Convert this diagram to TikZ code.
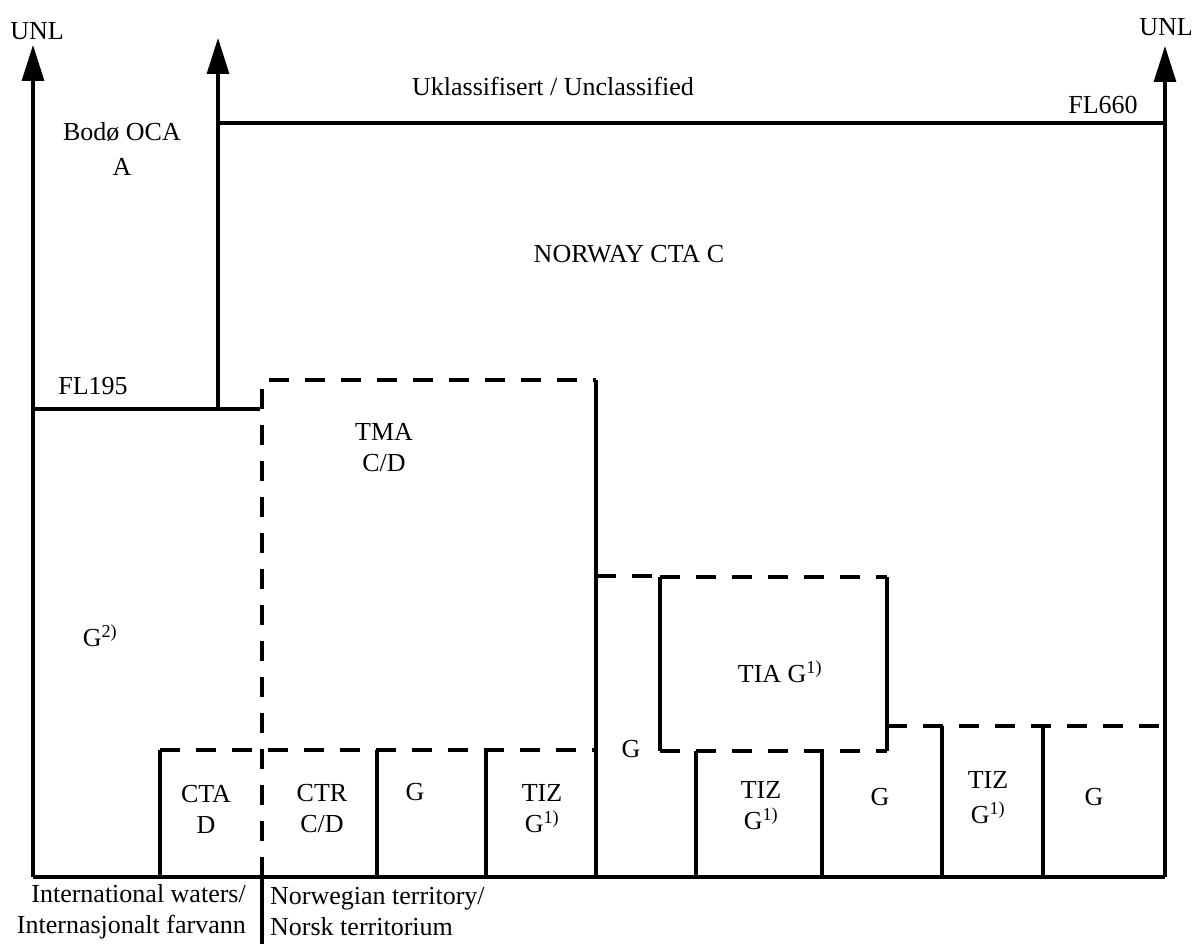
\documentclass[tikz,border=0pt]{standalone}
\usepackage{fontspec}
\setmainfont{Liberation Serif}
\usetikzlibrary{arrows.meta}
\tikzset{
  ln/.style={line width=3.2pt},
  dsh/.style={line width=3.2pt, dash pattern=on 20pt off 16pt},
  up/.style={line width=3.2pt, -{Triangle[length=36pt,width=22pt]}},
  lbl/.style={font=\fontsize{26}{31}\selectfont, inner sep=0pt, align=center},
}
\begin{document}
\begin{tikzpicture}[x=1pt,y=-1pt]
\useasboundingbox (0,0) rectangle (1192,944);
% coordinates
\coordinate (L0) at (33,877);
\coordinate (Ltop) at (33,45);
\coordinate (A2b) at (218,409);
\coordinate (A2t) at (218,38);
\coordinate (R0) at (1165,877);
\coordinate (Rtop) at (1165,46);
% arrows
\draw[up] (L0) -- (Ltop);
\draw[up] (A2b) -- (A2t);
\draw[up] (R0) -- (Rtop);
% FL660 line
\draw[ln] (218,123) -- (1165,123);
% FL195 line
\draw[ln] (33,409) -- (260,409);
% bottom line
\draw[ln] (33,877) -- (1165,877);
% border line under
\draw[ln] (262,877) -- (262,944);
% TMA box
\draw[dsh] (262,877) -- (262,380) -- (596,380);
\draw[ln] (596,380) -- (596,877);
\draw[dsh] (160,750) -- (596,750);
\draw[ln] (160,750) -- (160,877);
\draw[ln] (377,750) -- (377,877);
\draw[ln] (486,750) -- (486,877);
% dashed from TMA to TIA
\draw[dsh] (596,576) -- (660,576);
% TIA box
\draw[dsh] (660,577) -- (887,577);
\draw[dsh] (660,751) -- (887,751);
\draw[ln] (660,577) -- (660,751);
\draw[ln] (887,577) -- (887,751);
% right lower zone
\draw[dsh] (887,726) -- (1165,726);
\draw[ln] (696,751) -- (696,877);
\draw[ln] (822,751) -- (822,877);
\draw[ln] (942,726) -- (942,877);
\draw[ln] (1043,726) -- (1043,877);
% labels
\node[lbl] (unl1) at (37,31) {UNL};
\node[lbl] (unl2) at (1166,27) {UNL};
\node[lbl] (uncl) at (553,86) {Uklassifisert / Unclassified};
\node[lbl] (fl660) at (1103,105) {FL660};
\node[lbl] (bodo) at (122,132) {Bodø OCA};
\node[lbl] (bodoA) at (122,167) {A};
\node[lbl] (cta) at (629,254) {NORWAY CTA C};
\node[lbl] (fl195) at (93,386) {FL195};
\node[lbl] (tma) at (384,448) {TMA\\C/D};
\node[lbl] (g2) at (100,636) {G\textsuperscript{2)}};
\node[lbl] (tia) at (780,672) {TIA G\textsuperscript{1)}};
\node[lbl] (gmid) at (631,749) {G};
\node[lbl] (ctad) at (206,809) {CTA\\D};
\node[lbl] (ctr) at (322,809) {CTR\\C/D};
\node[lbl] (g1) at (415,792) {G};
\node[lbl] (tiz1) at (542,809) {TIZ\\G\textsuperscript{1)}};
\node[lbl] (tiz2) at (761,806) {TIZ\\G\textsuperscript{1)}};
\node[lbl] (g3) at (880,797) {G};
\node[lbl] (tiz3) at (988,798) {TIZ\\[4pt]G\textsuperscript{1)}};
\node[lbl] (g4) at (1094,797) {G};
\node[lbl, anchor=east, align=right] (intl) at (246,912) {International waters/\\Internasjonalt farvann};
\node[lbl, anchor=west, align=left] (norw) at (270,912) {Norwegian territory/\\Norsk territorium};
\end{tikzpicture}
\end{document}
